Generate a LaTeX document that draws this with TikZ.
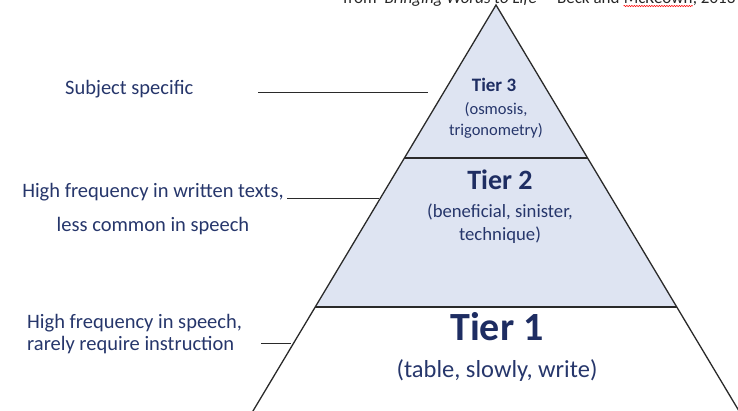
\documentclass[tikz,border=0pt]{standalone}
\usepackage{fontspec}
\setmainfont{Carlito}
\usetikzlibrary{decorations.pathmorphing}
\definecolor{navy}{HTML}{26366B}
\definecolor{navyb}{HTML}{1E2D62}
\definecolor{tierblue}{HTML}{DEE4F2}
\definecolor{edge}{HTML}{2A2A2A}
\begin{document}
\begin{tikzpicture}[x=1pt,y=-1pt,
  lbl/.style={text=navy, font=\fontsize{20.5}{22}\selectfont, inner sep=0pt},
  tierhead/.style={text=navyb, inner sep=0pt, font=\bfseries},
  tiersub/.style={text=navy, inner sep=0pt},
  outline/.style={draw=edge, line width=1.3pt, line join=miter},
  leader/.style={draw=edge, line width=1pt},
  srctext/.style={text=black!85, inner sep=0pt, font=\fontsize{17}{19}\selectfont}]
\useasboundingbox (0,0) rectangle (738,411);
\clip (0,0) rectangle (738,411);
% geometry
\coordinate (apex) at (496,5);
\coordinate (l3) at (404.1,158);
\coordinate (r3) at (587.9,158);
\coordinate (l2) at (315.3,307);
\coordinate (r2) at (676.7,307);
\coordinate (bl) at (248.2,419);
\coordinate (br) at (743.8,419);
% fills
\fill[tierblue] (apex) -- (l2) -- (r2) -- cycle;
\draw[outline] (bl) -- (apex) -- (br);
\draw[outline] (l3) -- (r3);
\draw[outline] (l2) -- (r2);
% source line (cut at top)
\node[srctext, anchor=base west] (src1) at (343,4) {from ‘\textit{Bringing Words to Life}’ – Beck and};
\node[srctext, anchor=base west] (src2) at ([xshift=3.8pt]src1.base east) {McKeown};
\node[srctext, anchor=base west] (src3) at (src2.base east) {, 2013};
\draw[red, line width=0.6pt, decorate, decoration={snake, amplitude=0.6pt, segment length=2.5pt}]
  ([yshift=-2pt]src2.base west) -- ([yshift=-2pt]src2.base east);
% tier texts
\node[tierhead, font=\bfseries\fontsize{19}{21}\selectfont, anchor=base] (t3) at (494,92) {Tier 3};
\node[tiersub, font=\fontsize{16.5}{18}\selectfont, anchor=base] (t3a) at (496,115) {(osmosis,};
\node[tiersub, font=\fontsize{16.5}{18}\selectfont, anchor=base] (t3b) at (496,136) {trigonometry)};
\node[tierhead, font=\bfseries\fontsize{28}{30}\selectfont, anchor=base] (t2) at (500,190) {Tier 2};
\node[tiersub, font=\fontsize{18.7}{20}\selectfont, anchor=base] (t2a) at (500,218) {(beneficial, sinister,};
\node[tiersub, font=\fontsize{18.7}{20}\selectfont, anchor=base] (t2b) at (500,241) {technique)};
\node[tierhead, font=\bfseries\fontsize{40}{42}\selectfont, anchor=base] (t1) at (497,340) {Tier 1};
\node[tiersub, font=\fontsize{24.5}{26}\selectfont, anchor=base] (t1a) at (497,377) {(table, slowly, write)};
% left labels
\node[lbl, anchor=base west] (subj) at (65,95) {Subject specific};
\node[lbl, anchor=base] (hf2a) at (153,198) {High frequency in written texts,};
\node[lbl, anchor=base] (hf2b) at (153,232) {less common in speech};
\node[lbl, anchor=base west] (hf1a) at (27,328) {High frequency in speech,};
\node[lbl, anchor=base west] (hf1b) at (27,350) {rarely require instruction};
% leaders
\coordinate (s1) at (258,93);
\coordinate (s2) at (428,93);
\coordinate (m1) at (287,199);
\coordinate (m2) at (379,199);
\coordinate (b1) at (261,343);
\coordinate (b2) at (291,343);
\draw[leader] (s1) -- (s2);
\draw[leader] (m1) -- (m2);
\draw[leader] (b1) -- (b2);
\end{tikzpicture}
\end{document}
